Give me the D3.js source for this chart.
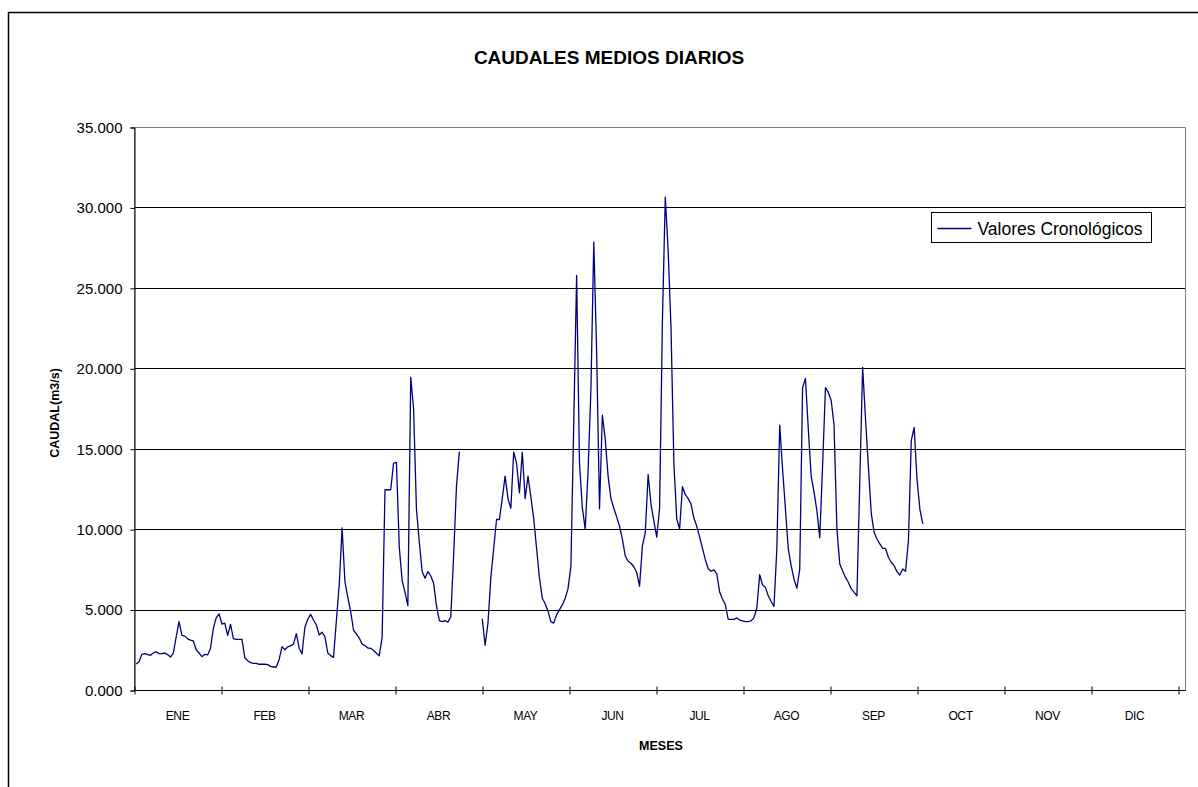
<!DOCTYPE html>
<html>
<head>
<meta charset="utf-8">
<script src="https://cdn.jsdelivr.net/npm/d3@7"></script>
<style>
  body { margin: 0; background: #fff; }
  text { font-family: "Liberation Sans", Arial, sans-serif; fill: #000; }
</style>
</head>
<body>
<div id="chart"></div>
<script>
// month labels on the category axis
const months = ['ENE', 'FEB', 'MAR', 'ABR', 'MAY', 'JUN', 'JUL', 'AGO', 'SEP', 'OCT', 'NOV', 'DIC'];
const yTicks = [0, 5, 10, 15, 20, 25, 30, 35];

// daily mean flow (m3/s), one value per day, null = no record
const ene = [1.62, 1.75, 2.22, 2.26, 2.2, 2.16, 2.3, 2.38, 2.26, 2.26, 2.3, 2.2, 2.05, 2.3, 3.3, 4.25,
  3.4, 3.35, 3.18, 3.1, 3.05, 2.5, 2.3, 2.07, 2.22, 2.18, 2.6, 3.84, 4.5, 4.73, 4.1];
const feb = [4.15, 3.4, 4.08, 3.2, 3.15, 3.15, 3.15, 2.0, 1.82, 1.7, 1.66, 1.66, 1.6, 1.6, 1.6, 1.58,
  1.47, 1.43, 1.43, 1.9, 2.7, 2.5, 2.68, 2.74, 2.85, 3.5, 2.6, 2.24];
const mar = [3.9, 4.4, 4.7, 4.35, 4.04, 3.42, 3.59, 3.32, 2.3, 2.14, 2.03, 4.3, 6.55, 10.07, 6.73, 5.76,
  4.87, 3.73, 3.48, 3.23, 2.86, 2.76, 2.61, 2.59, 2.45, 2.28, 2.13, 3.27, 12.45, 12.45, 12.45];
const abr = [14.1, 14.15, 8.87, 6.8, 6.07, 5.24, 19.44, 17.47, 11.25, 9.18, 7.36, 6.94, 7.36, 7.1, 6.63,
  5.24, 4.31, 4.25, 4.31, 4.21, 4.56, 8.35, 12.7, 14.82, null, null, null, null, null, null];
const may = [null, 4.44, 2.78, 4.16, 6.97, 8.8, 10.6, 10.6, 11.9, 13.3, 11.9, 11.3, 14.78, 14.1, 12.25,
  14.78, 11.9, 13.3, 12.0, 10.64, 8.8, 6.97, 5.7, 5.36, 4.9, 4.25, 4.16, 4.67, 5.0, 5.29, 5.7];
const jun = [6.3, 7.7, 16.7, 25.77, 14.1, 11.33, 10.0, 13.6, 18.7, 27.84, 21.0, 11.26, 17.08, 15.6, 13.3,
  11.9, 11.3, 10.76, 10.18, 9.38, 8.34, 8.0, 7.88, 7.66, 7.3, 6.46, 8.97, 9.77, 13.4, 11.56];
const jul = [10.5, 9.5, 11.3, 23.0, 30.64, 27.3, 22.5, 14.1, 10.64, 10.0, 12.64, 12.14, 11.9, 11.56, 10.69,
  10.18, 9.5, 8.8, 8.1, 7.54, 7.38, 7.47, 7.24, 6.09, 5.66, 5.31, 4.39, 4.39, 4.39, 4.48, 4.35];
const ago = [4.3, 4.25, 4.25, 4.3, 4.5, 5.1, 7.17, 6.53, 6.38, 5.86, 5.5, 5.2, 8.8, 16.47, 13.74, 11.25,
  8.77, 7.73, 6.9, 6.32, 7.52, 18.8, 19.37, 16.2, 13.3, 12.3, 11.15, 9.47, 14.0, 18.8, 18.5];
const sep = [18.0, 16.47, 10.0, 7.83, 7.4, 7.0, 6.7, 6.3, 6.07, 5.86, 13.0, 20.06, 16.85, 13.9, 11.0,
  9.8, 9.39, 9.08, 8.8, 8.8, 8.25, 7.94, 7.73, 7.36, 7.15, 7.52, 7.38, 9.28, 15.5, 16.33];
const oct = [13.1, 11.25, 10.32];

const daily = [...ene, ...feb, ...mar, ...abr, ...may, ...jun, ...jul, ...ago, ...sep, ...oct]
  .map((v, i) => ({ day: i, v: v }));

const w = 1198;
const h = 787;
const plot = { left: 134, top: 127, bottom: 690, right: 1185, axisEnd: 1178 };

const svg = d3.select('#chart')
  .append('svg')
  .attr('width', w)
  .attr('height', h);

// chart area frame (runs past the picture on the right and bottom)
svg.append('rect')
  .attr('x', 8.5).attr('y', 12.5)
  .attr('width', 1300).attr('height', 900)
  .attr('fill', '#fff')
  .attr('stroke', '#000')
  .attr('stroke-width', 1.5);

// scales
const y = d3.scaleLinear().domain([0, 35]).range([plot.bottom, plot.top]);
const xMonth = d3.scaleBand().domain(months).range([plot.left, plot.axisEnd]);
const xEdge = d3.scaleLinear().domain([0, 12]).range([plot.left, plot.axisEnd]);
const xDay = d3.scaleLinear().domain([0, 365]).range([plot.left, plot.axisEnd]);

// gridlines
svg.append('g')
  .selectAll('line')
  .data(yTicks.filter(d => d > 0 && d < 35))
  .join('line')
  .attr('x1', plot.left).attr('x2', plot.right)
  .attr('y1', d => Math.round(y(d)) + 0.5).attr('y2', d => Math.round(y(d)) + 0.5)
  .attr('stroke', '#000');

// plot area border
svg.append('rect')
  .attr('x', plot.left + 0.5).attr('y', plot.top + 0.5)
  .attr('width', plot.right - plot.left).attr('height', plot.bottom - plot.top)
  .attr('fill', 'none')
  .attr('stroke', '#808080');

// y axis
const yAxis = d3.axisLeft(y)
  .tickValues(yTicks)
  .tickFormat(d3.format('.3f'))
  .tickSize(4)
  .tickPadding(8);

svg.append('g')
  .attr('class', 'y-axis')
  .attr('transform', `translate(${plot.left + 0.5}, 0.5)`)
  .call(yAxis);

svg.select('.y-axis').selectAll('text')
  .attr('font-size', '15px')
  .attr('font-family', '"Liberation Sans", Arial, sans-serif');

// x axis: tick marks on month edges
const xAxis = d3.axisBottom(xEdge)
  .tickValues(d3.range(13))
  .tickFormat('')
  .tickSizeOuter(0)
  .tickSize(4);

svg.append('g')
  .attr('class', 'x-axis')
  .attr('transform', `translate(0.5, ${plot.bottom + 0.5})`)
  .call(xAxis);

svg.select('.x-axis').selectAll('.tick line')
  .attr('y1', -4);

svg.select('.x-axis').select('.domain')
  .attr('d', `M${plot.left},0H${plot.right}`);

svg.selectAll('.domain, .tick line').attr('stroke', '#000');

// month labels centred in each band
const labelAxis = d3.axisBottom(xMonth).tickSize(0).tickPadding(21);
svg.append('g')
  .attr('class', 'month-labels')
  .attr('transform', `translate(0, ${plot.bottom})`)
  .call(labelAxis);

svg.select('.month-labels').select('.domain').remove();
svg.select('.month-labels').selectAll('text')
  .attr('font-size', '12px')
  .attr('font-family', '"Liberation Sans", Arial, sans-serif')
  .attr('letter-spacing', '-0.4px');

// daily flow line
const line = d3.line()
  .defined(d => d.v != null)
  .x(d => xDay(d.day + 0.75))
  .y(d => y(d.v));

svg.append('path')
  .datum(daily)
  .attr('fill', 'none')
  .attr('stroke', '#000080')
  .attr('stroke-width', 1.3)
  .attr('stroke-linejoin', 'round')
  .attr('d', line);

// titles
svg.append('text')
  .attr('x', 609).attr('y', 64)
  .attr('text-anchor', 'middle')
  .attr('font-size', '19px')
  .attr('font-weight', 'bold')
  .text('CAUDALES MEDIOS DIARIOS');

svg.append('text')
  .attr('x', 661).attr('y', 750)
  .attr('text-anchor', 'middle')
  .attr('font-size', '12.5px')
  .attr('font-weight', 'bold')
  .text('MESES');

svg.append('text')
  .attr('transform', 'translate(59, 413) rotate(-90)')
  .attr('text-anchor', 'middle')
  .attr('font-size', '12.5px')
  .attr('font-weight', 'bold')
  .text('CAUDAL(m3/s)');

// legend
const legend = svg.append('g').attr('transform', 'translate(931.5, 212.5)');
legend.append('rect')
  .attr('width', 220).attr('height', 30)
  .attr('fill', '#fff')
  .attr('stroke', '#000');
legend.append('line')
  .attr('x1', 6).attr('x2', 40)
  .attr('y1', 16).attr('y2', 16)
  .attr('stroke', '#000080')
  .attr('stroke-width', 1.3);
legend.append('text')
  .attr('x', 46).attr('y', 22)
  .attr('font-size', '17.5px')
  .text('Valores Cronológicos');
</script>
</body>
</html>
